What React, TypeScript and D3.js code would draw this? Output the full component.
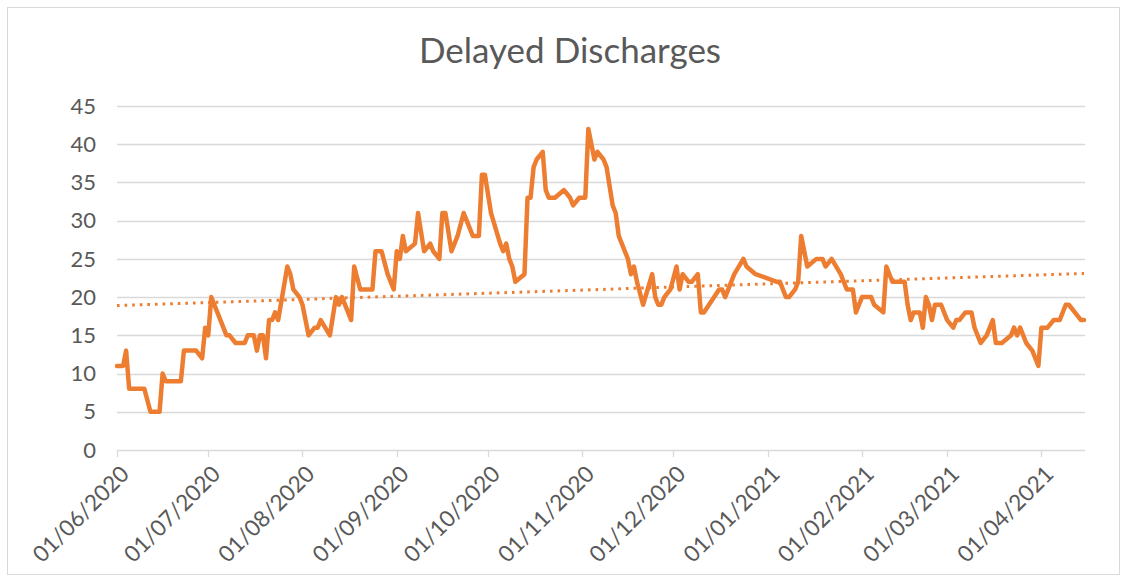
import React from 'react';
import * as d3 from 'd3';

const dates = [
  '2020-06-01', '2020-06-03', '2020-06-04', '2020-06-05', '2020-06-10', '2020-06-12', '2020-06-15', '2020-06-16',
  '2020-06-17', '2020-06-22', '2020-06-23', '2020-06-27', '2020-06-29', '2020-06-30', '2020-07-01', '2020-07-02',
  '2020-07-04', '2020-07-07', '2020-07-08', '2020-07-10', '2020-07-13', '2020-07-14', '2020-07-16', '2020-07-17',
  '2020-07-18', '2020-07-19', '2020-07-20', '2020-07-21', '2020-07-22', '2020-07-23', '2020-07-24', '2020-07-27',
  '2020-07-28', '2020-07-29', '2020-07-31', '2020-08-01', '2020-08-03', '2020-08-05', '2020-08-06', '2020-08-07',
  '2020-08-10', '2020-08-12', '2020-08-13', '2020-08-14', '2020-08-17', '2020-08-18', '2020-08-20', '2020-08-24',
  '2020-08-25', '2020-08-27', '2020-08-29', '2020-08-31', '2020-09-01', '2020-09-02', '2020-09-03', '2020-09-04',
  '2020-09-07', '2020-09-08', '2020-09-10', '2020-09-12', '2020-09-13', '2020-09-15', '2020-09-16', '2020-09-17',
  '2020-09-19', '2020-09-21', '2020-09-23', '2020-09-24', '2020-09-26', '2020-09-28', '2020-09-29', '2020-09-30',
  '2020-10-02', '2020-10-05', '2020-10-06', '2020-10-07', '2020-10-08', '2020-10-09', '2020-10-10', '2020-10-13',
  '2020-10-14', '2020-10-15', '2020-10-16', '2020-10-17', '2020-10-19', '2020-10-20', '2020-10-21', '2020-10-23',
  '2020-10-26', '2020-10-28', '2020-10-29', '2020-10-31', '2020-11-02', '2020-11-03', '2020-11-05', '2020-11-06',
  '2020-11-08', '2020-11-09', '2020-11-11', '2020-11-12', '2020-11-13', '2020-11-16', '2020-11-17', '2020-11-18',
  '2020-11-19', '2020-11-21', '2020-11-24', '2020-11-25', '2020-11-26', '2020-11-27', '2020-11-28', '2020-11-30',
  '2020-12-02', '2020-12-03', '2020-12-04', '2020-12-06', '2020-12-07', '2020-12-09', '2020-12-10', '2020-12-11',
  '2020-12-16', '2020-12-17', '2020-12-18', '2020-12-21', '2020-12-24', '2020-12-25', '2020-12-28', '2021-01-04',
  '2021-01-05', '2021-01-07', '2021-01-08', '2021-01-10', '2021-01-11', '2021-01-12', '2021-01-14', '2021-01-17',
  '2021-01-19', '2021-01-20', '2021-01-22', '2021-01-25', '2021-01-26', '2021-01-27', '2021-01-29', '2021-01-30',
  '2021-02-01', '2021-02-02', '2021-02-04', '2021-02-05', '2021-02-08', '2021-02-09', '2021-02-11', '2021-02-15',
  '2021-02-16', '2021-02-17', '2021-02-18', '2021-02-20', '2021-02-21', '2021-02-22', '2021-02-23', '2021-02-24',
  '2021-02-25', '2021-02-27', '2021-03-01', '2021-03-03', '2021-03-04', '2021-03-05', '2021-03-07', '2021-03-09',
  '2021-03-10', '2021-03-12', '2021-03-14', '2021-03-16', '2021-03-17', '2021-03-19', '2021-03-22', '2021-03-23',
  '2021-03-24', '2021-03-25', '2021-03-27', '2021-03-29', '2021-03-30', '2021-03-31', '2021-04-01', '2021-04-03',
  '2021-04-05', '2021-04-07', '2021-04-09', '2021-04-10', '2021-04-12', '2021-04-14', '2021-04-15',
];

const values = [
  11, 11, 13, 8, 8, 5, 5, 10,
  9, 9, 13, 13, 12, 16, 15, 20,
  18, 15, 15, 14, 14, 15, 15, 13,
  15, 15, 12, 17, 17, 18, 17, 24,
  23, 21, 20, 19, 15, 16, 16, 17,
  15, 20, 19, 20, 17, 24, 21, 21,
  26, 26, 23, 21, 26, 25, 28, 26,
  27, 31, 26, 27, 26, 25, 31, 31,
  26, 28, 31, 30, 28, 28, 36, 36,
  31, 27, 26, 27, 25, 24, 22, 23,
  33, 33, 37, 38, 39, 34, 33, 33,
  34, 33, 32, 33, 33, 42, 38, 39,
  38, 37, 32, 31, 28, 25, 23, 24,
  22, 19, 23, 20, 19, 19, 20, 21,
  24, 21, 23, 22, 22, 23, 18, 18,
  21, 21, 20, 23, 25, 24, 23, 22,
  22, 20, 20, 21, 22, 28, 24, 25,
  25, 24, 25, 23, 22, 21, 21, 18,
  20, 20, 20, 19, 18, 24, 22, 22,
  19, 17, 18, 18, 16, 20, 19, 17,
  19, 19, 17, 16, 17, 17, 18, 18,
  16, 14, 15, 17, 14, 14, 15, 16,
  15, 16, 14, 13, 12, 11, 16, 16,
  17, 17, 19, 19, 18, 17, 17,
];

// linear trendline (value at first and last date)
const trendValues = [18.9, 23.1];

const yTicks = [0, 5, 10, 15, 20, 25, 30, 35, 40, 45];

const W = 1127;
const H = 581;
const FONT = 'Lato, Carlito, Calibri, sans-serif';
const TEXT = '#595959';
const GRID = '#D9D9D9';
const ORANGE = '#ED7D31';

export default function App() {
  const parse = d3.timeParse('%Y-%m-%d');
  const fmt = d3.timeFormat('%d/%m/%Y');
  const points = dates.map((d, i) => ({ date: parse(d) as Date, value: values[i] }));
  const first = points[0].date;
  const last = points[points.length - 1].date;

  const x = d3.scaleTime().domain([first, last]).range([117, 1084]);
  const y = d3.scaleLinear().domain([0, 45]).range([450, 106]);

  const line = d3
    .line<{ date: Date; value: number }>()
    .x((d) => x(d.date))
    .y((d) => y(d.value));

  const trend = [
    { date: first, value: trendValues[0] },
    { date: last, value: trendValues[1] },
  ];

  const monthTicks = d3.timeMonth.range(first, d3.timeDay.offset(last, 1));

  return (
    <svg width={W} height={H} style={{ position: 'absolute', left: 0, top: 0, background: '#fff' }}>
      <rect x={7.5} y={7.5} width={1112} height={567} fill="#fff" stroke={GRID} strokeWidth={1} />
      <text x={570} y={63} textAnchor="middle" fontFamily={FONT} fontSize={35} fill={TEXT}>
        Delayed Discharges
      </text>

      {/* gridlines */}
      {yTicks.map((t) => (
        <line key={t} x1={117} x2={1085} y1={Math.round(y(t)) + 0.5} y2={Math.round(y(t)) + 0.5} stroke={GRID} strokeWidth={1.3} />
      ))}
      {yTicks.map((t) => (
        <text key={'l' + t} x={96} y={y(t)} dy="0.35em" textAnchor="end" fontFamily={FONT} fontSize={22} fill={TEXT}>
          {t}
        </text>
      ))}

      {/* x ticks */}
      {monthTicks.map((m) => (
        <g key={m.toISOString()}>
          <line x1={Math.round(x(m)) + 0.5} x2={Math.round(x(m)) + 0.5} y1={450} y2={457} stroke={GRID} strokeWidth={1.3} />
          <text
            transform={`translate(${x(m) + 8},${470}) rotate(-45)`}
            textAnchor="end"
            dy="0.35em"
            fontFamily={FONT}
            fontSize={22.5}
            fill={TEXT}
          >
            {fmt(m)}
          </text>
        </g>
      ))}

      <path d={line(points) || ''} fill="none" stroke={ORANGE} strokeWidth={4.5} strokeLinejoin="round" strokeLinecap="round" />
      <path d={line(trend) || ''} fill="none" stroke={ORANGE} strokeWidth={3} strokeDasharray="2.6 5" />
    </svg>
  );
}
